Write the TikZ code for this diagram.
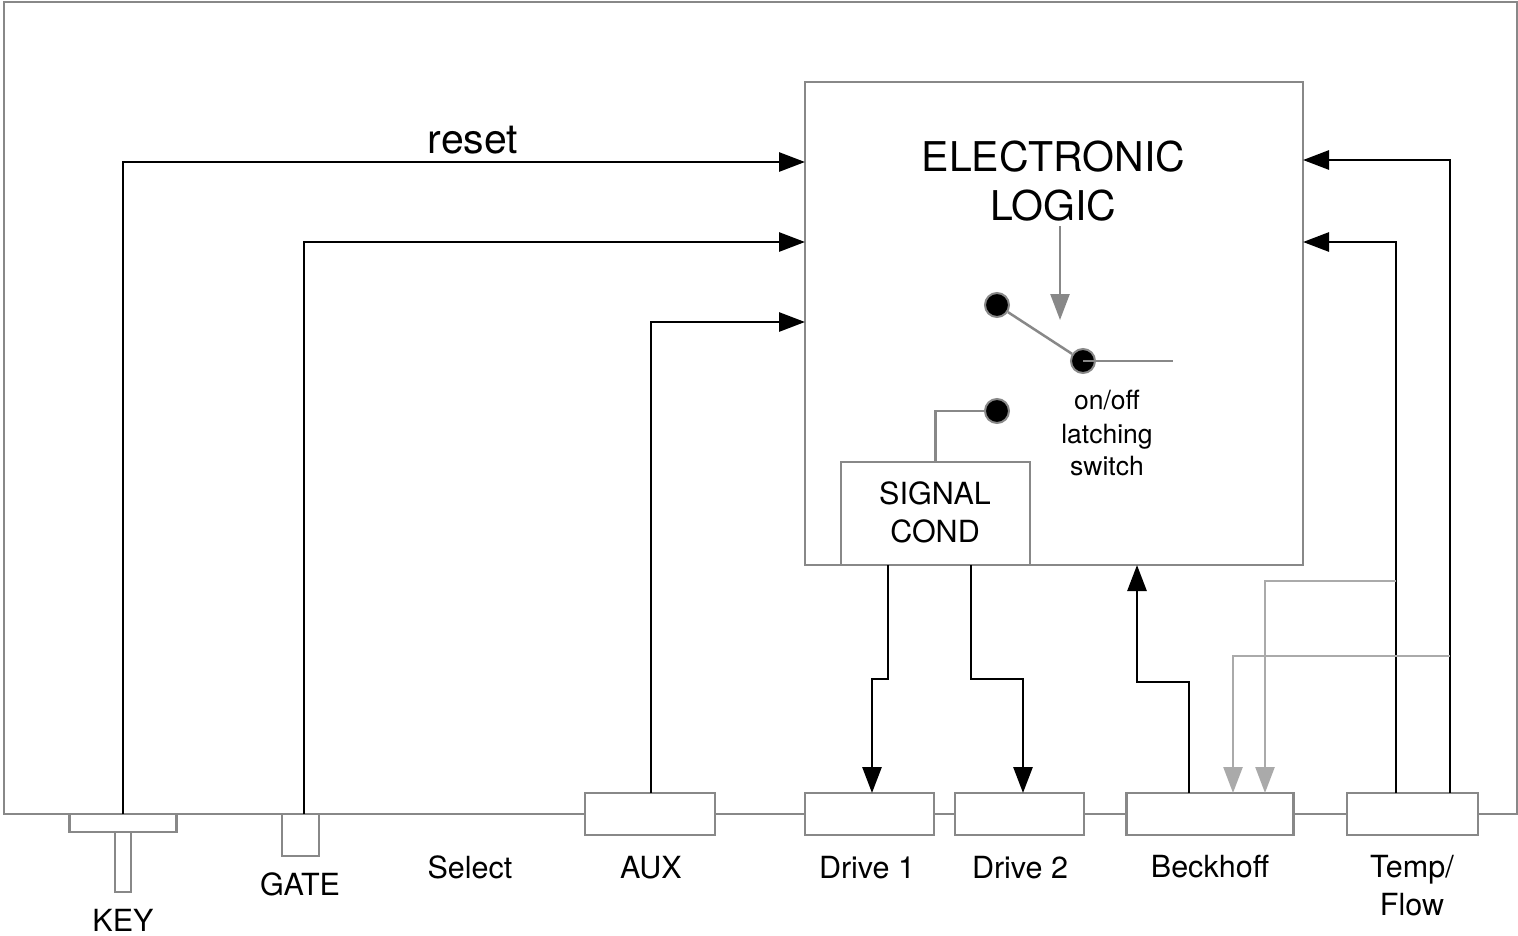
\documentclass[tikz,border=0pt]{standalone}
\usepackage{fontspec}
\setmainfont{TeX Gyre Heros}
\usetikzlibrary{arrows.meta}
\definecolor{frame}{HTML}{888888}
\definecolor{lgray}{HTML}{AAAAAA}
\begin{document}
\begin{tikzpicture}[x=1pt,y=-1pt,
  frm/.style={draw=frame, line width=2.5pt},
  box/.style={frm, fill=white, inner sep=0pt, outer sep=0pt, rectangle},
  wire/.style={draw=black, line width=2.8pt},
  arr/.style={wire, -{Triangle[length=26pt,width=19pt]}},
  garr/.style={draw=lgray, line width=2.5pt, -{Triangle[length=26pt,width=19pt]}},
  darr/.style={draw=frame, line width=2.5pt, -{Triangle[length=26pt,width=19pt]}},
  dot/.style={circle, fill=black, draw=frame, line width=2pt, minimum size=24pt, inner sep=0pt},
  big/.style={font=\fontsize{41}{49}\selectfont, anchor=base, inner sep=0pt},
  lab/.style={font=\fontsize{30.5}{38}\selectfont, anchor=base, inner sep=0pt},
  small/.style={font=\fontsize{26.5}{32}\selectfont, anchor=base, inner sep=0pt}]
\useasboundingbox (0,0) rectangle (1518,935);
% outer frame
\draw[frm] (4,814) -- (4,2) -- (1517,2) -- (1517,814) -- cycle;
% main blocks
\node[box, minimum width=498pt, minimum height=483pt] (logic) at (1054,323.5) {};
\node[box, minimum width=189pt, minimum height=103pt] (signal) at (935.5,513.5) {};
% bottom connectors
\node[box, minimum width=16pt, minimum height=60pt] (keystem) at (123,862) {};
\node[box, minimum width=107pt, minimum height=18pt] (keytop) at (123,823) {};
\node[box, minimum width=37pt, minimum height=42pt] (gate) at (300.5,835) {};
\node[box, minimum width=130pt, minimum height=42pt] (aux) at (650,814) {};
\node[box, minimum width=129pt, minimum height=42pt] (drive1) at (869.5,814) {};
\node[box, minimum width=129pt, minimum height=42pt] (drive2) at (1019.5,814) {};
\node[box, minimum width=167pt, minimum height=42pt] (beck) at (1210,814) {};
\node[box, minimum width=131pt, minimum height=42pt] (temp) at (1412.5,814) {};
% labels
\node[big] (lreset) at (473,153) {reset};
\node[big] (lel) at (1053.5,171) {ELECTRONIC};
\node[big] (llog) at (1053.5,220) {LOGIC};
\node[lab] (lsig) at (935,504) {SIGNAL};
\node[lab] (lcond) at (935,542) {COND};
\node[small] (lon) at (1107,409) {on/off};
\node[small] (llat) at (1107,443) {latching};
\node[small] (lsw) at (1107,475) {switch};
\node[lab] (lkey) at (123,931) {KEY};
\node[lab] (lgate) at (300,895) {GATE};
\node[lab] (lsel) at (470,878) {Select};
\node[lab] (laux) at (651,878) {AUX};
\node[lab] (ld1) at (867,878) {Drive 1};
\node[lab] (ld2) at (1020,878) {Drive 2};
\node[lab] (lbk) at (1210,877) {Beckhoff};
\node[lab] (ltemp) at (1412,877) {Temp/};
\node[lab] (lflow) at (1412,915) {Flow};
% switch
\coordinate (ctl) at (1060,226);
\coordinate (ctlend) at (1060,320);
\draw[darr] (ctl) -- (ctlend);
\node[dot] (sw1) at (997,305) {};
\node[dot] (sw2) at (1083,361) {};
\node[dot] (sw3) at (997,411) {};
\coordinate (swout) at (1173,361);
\draw[frm] (sw1) -- (sw2);
\draw[frm] (sw2.center) -- (swout);
\draw[frm] (sw3) -| (signal.north);
% left inputs
\draw[arr] (keytop.north) |- (logic.west |- 0,162);
\draw[arr] (gate.north -| 304,0) |- (logic.west |- 0,242);
\draw[arr] (aux.north -| 651,0) |- (logic.west |- 0,322);
% right inputs
\draw[arr] (temp.north -| 1396,0) |- (logic.east |- 0,242);
\draw[arr] (temp.north -| 1450,0) |- (logic.east |- 0,160);
% drives
\draw[arr] (signal.south -| 888,0) -- (888,679) -| (drive1.north -| 872,0);
\draw[arr] (signal.south -| 971,0) -- (971,679) -| (drive2.north -| 1023,0);
% beckhoff
\draw[arr] (beck.north -| 1189,0) -- (1189,682) -| (logic.south -| 1137,0);
% gray feed to beckhoff
\coordinate (t1) at (1396,581);
\coordinate (t2) at (1450,656);
\draw[garr] (t1) -| (beck.north -| 1265,0);
\draw[garr] (t2) -| (beck.north -| 1233,0);
\end{tikzpicture}
\end{document}
